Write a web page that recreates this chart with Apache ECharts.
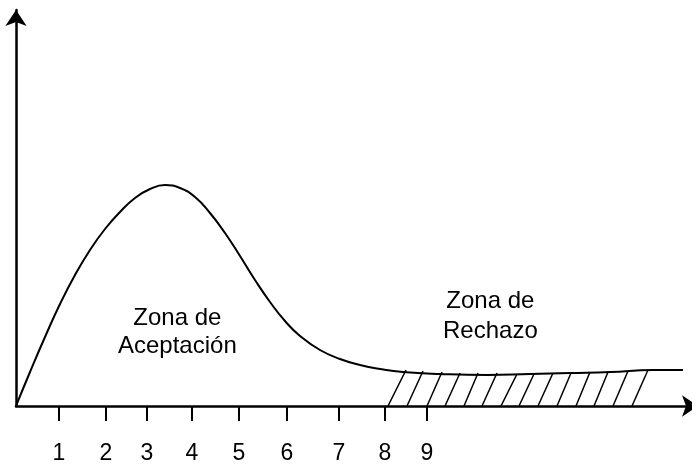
<!DOCTYPE html>
<html>
<head>
<meta charset="utf-8">
<script src="https://cdn.jsdelivr.net/npm/echarts@6/dist/echarts.min.js"></script>
<style>
  html, body { margin: 0; padding: 0; background: #fff; overflow: hidden; }
  #chart { width: 698px; height: 465px; }
</style>
</head>
<body>
<div id="chart"></div>
<script>
// curva de densidad (unidades del dibujo, origen en el cruce de ejes)
var curveX = [0, 14, 29, 44, 59, 74, 89, 104, 119, 134, 149, 164, 179, 194, 209, 224, 239, 254, 269, 284, 304, 324, 344, 364, 387, 424, 471, 514, 554, 594, 637, 667];
var curveY = [0, 34, 69, 102, 131, 156, 177, 194, 208, 217, 221, 218, 209, 193, 173, 150, 126, 104, 85, 70, 56, 47, 41, 37, 34, 32, 31, 32, 33, 34, 36, 36];

// marcas del eje x
var tickPos = [43, 90, 131, 176, 223, 271, 323, 369, 411];
var tickLabels = ['1', '2', '3', '4', '5', '6', '7', '8', '9'];

// rayado de la zona de rechazo
var hatchBottomX = [372, 391, 411, 429, 448, 466, 485, 503, 522, 541, 560, 578, 597, 616];
var hatchTopX = [390, 407, 426, 444, 462, 481, 501, 518, 537, 555, 574, 592, 612, 632];
var hatchTopY = [36, 35, 34, 33, 33, 33, 32, 32, 33, 33, 34, 34, 35, 36];

var zoneLabels = ['Zona de\nAceptación', 'Zona de\nRechazo'];

var chart = echarts.init(document.getElementById('chart'));

var curveData = curveX.map(function (x, i) { return [x, curveY[i]]; });
var hatchData = hatchBottomX.map(function (x, i) {
  return { coords: [[x, 0], [hatchTopX[i], hatchTopY[i]]] };
});

var textStyle = {
  fontFamily: 'Liberation Sans, Arial, sans-serif',
  fontSize: 24,
  fill: '#000',
  textAlign: 'center'
};

var option = {
  backgroundColor: '#fff',
  animation: false,
  grid: { left: 16, right: 0, top: 10, bottom: 59 },
  xAxis: {
    type: 'value',
    min: 0,
    max: 682,
    axisLine: {
      show: true,
      symbol: ['none', 'arrow'],
      symbolSize: [16, 16],
      lineStyle: { color: '#000', width: 2.5 }
    },
    axisTick: {
      show: true,
      length: 15,
      customValues: tickPos,
      lineStyle: { color: '#000', width: 2 }
    },
    axisLabel: {
      show: true,
      customValues: tickPos,
      margin: 36,
      color: '#000',
      fontSize: 23,
      fontFamily: 'Liberation Sans, Arial, sans-serif',
      formatter: function (v) {
        var i = tickPos.indexOf(v);
        return i >= 0 ? tickLabels[i] : '';
      }
    },
    splitLine: { show: false }
  },
  yAxis: {
    type: 'value',
    min: 0,
    max: 396,
    axisLine: {
      show: true,
      symbol: ['none', 'arrow'],
      symbolSize: [16, 16],
      lineStyle: { color: '#000', width: 2.5 }
    },
    axisTick: { show: false },
    axisLabel: { show: false },
    splitLine: { show: false }
  },
  graphic: [
    { type: 'text', left: 118, top: 304, style: Object.assign({ text: zoneLabels[0], lineHeight: 28 }, textStyle) },
    { type: 'text', left: 443, top: 286, style: Object.assign({ text: zoneLabels[1], lineHeight: 30 }, textStyle) }
  ],
  series: [
    {
      type: 'line',
      data: curveData,
      smooth: 0.5,
      showSymbol: false,
      lineStyle: { color: '#000', width: 2 },
      z: 3
    },
    {
      type: 'lines',
      coordinateSystem: 'cartesian2d',
      data: hatchData,
      lineStyle: { color: '#000', width: 1.5, opacity: 1 },
      z: 2
    }
  ]
};

chart.setOption(option);
</script>
</body>
</html>
